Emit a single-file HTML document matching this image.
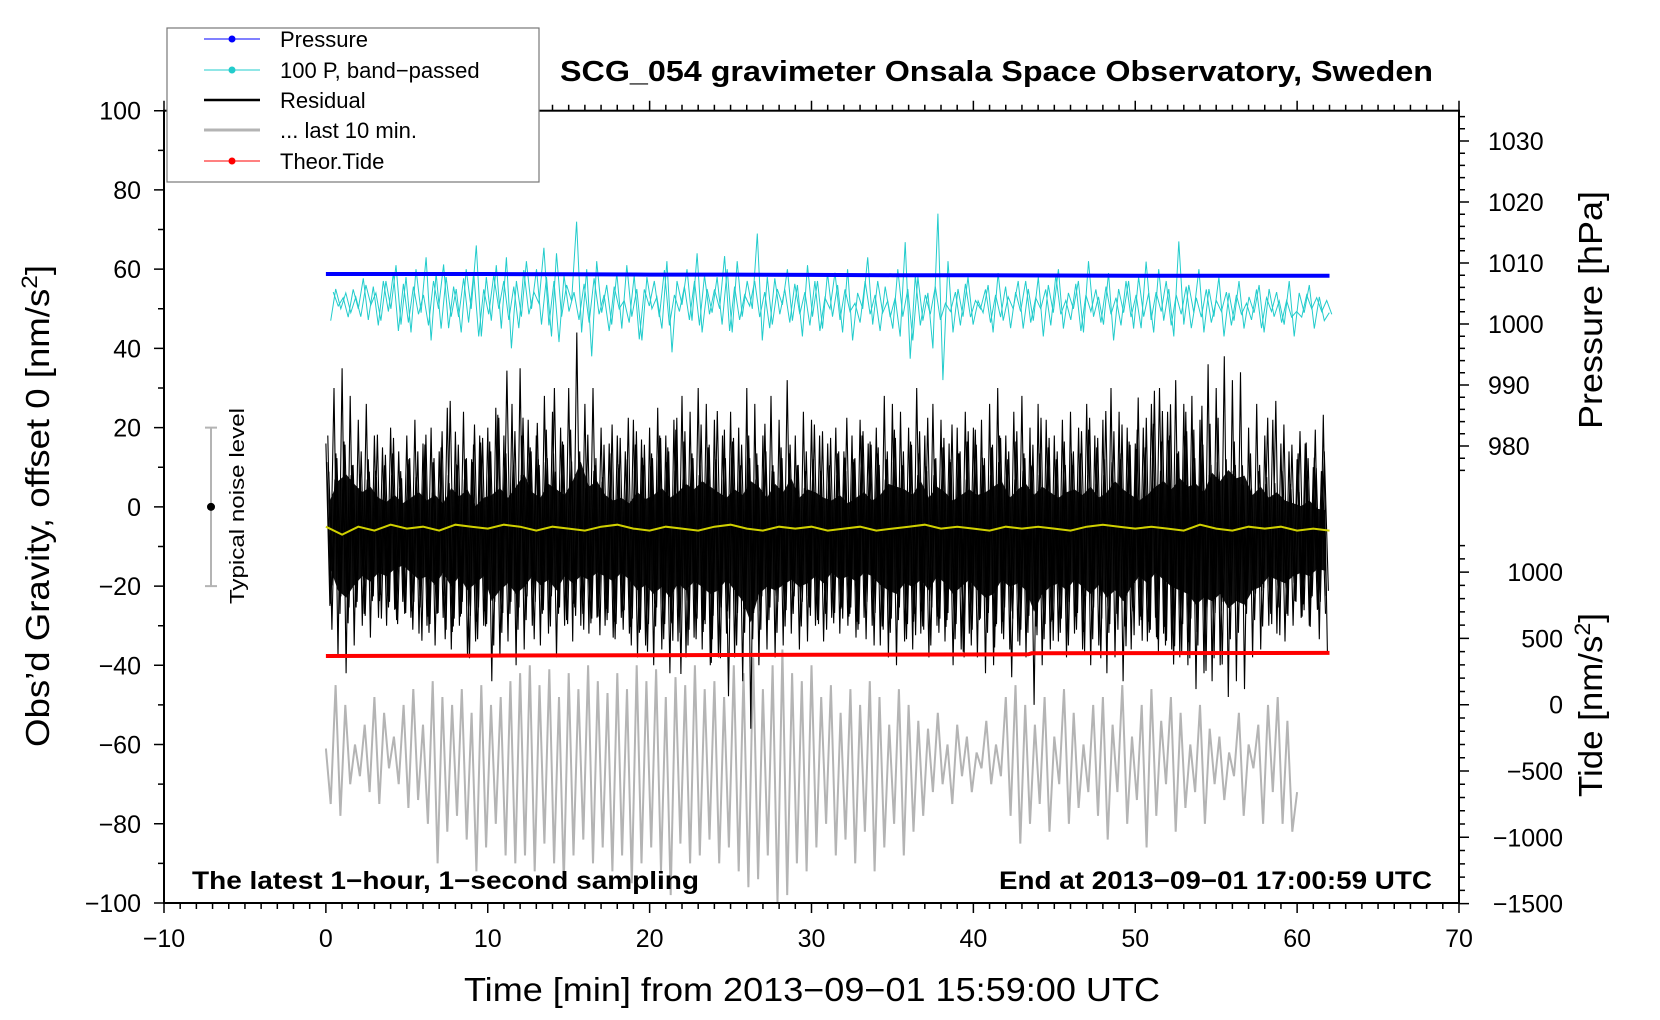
<!DOCTYPE html>
<html><head><meta charset="utf-8"><style>
html,body{margin:0;padding:0;background:#fff;}
svg{display:block;font-family:"Liberation Sans",Arial,sans-serif;}
</style></head><body>
<svg id="chart" width="1660" height="1020" viewBox="0 0 1660 1020" xmlns="http://www.w3.org/2000/svg">
<rect width="1660" height="1020" fill="#fff"/>
<g id="marks"></g>
<g id="axes"></g>
</svg>
<script>
// ---------- data ----------
const xTicks = [-10,0,10,20,30,40,50,60,70];
const leftTicks = [-100,-80,-60,-40,-20,0,20,40,60,80,100];
const pressTicks = [980,990,1000,1010,1020,1030];
const tideTicks = [-1500,-1000,-500,0,500,1000];
const pressTimes = [0,5,10,15,20,25,30,35,40,45,50,55,60,62];
const pressValues = [1008.2,1008.2,1008.2,1008.15,1008.1,1008.1,1008.05,1008.0,1008.0,1007.95,1007.9,1007.9,1007.9,1007.9];
const tideTimes = [0,10,20,30,43.4,43.6,50,62];
const tideValues = [367,370,373,376,380,388,389,391];
const cyanValues = [47,55,50,54,49,53,48,56,51,54,47,57,50,61,46,58,44,60,49,63,
42,59,45,58,48,55,44,60,50,66,43,58,47,61,45,63,40,57,48,62,
50,60,46,58,43,64,48,56,52,72,44,60,38,62,49,56,46,59,45,61,
48,55,42,58,50,53,45,62,39,57,51,60,47,64,44,55,49,58,46,60,
44,62,48,57,50,69,42,58,46,55,51,60,47,56,43,61,48,57,45,59,
48,56,44,60,42,54,50,63,46,57,49,52,45,60,48,55,42,58,47,54,
40,74,32,62,44,55,48,58,46,52,49,56,44,59,47,53,50,57,45,55,
47,58,43,56,49,60,45,54,50,57,44,62,48,53,46,59,42,55,49,57,
45,58,48,54,44,60,47,55,43,67,46,56,49,60,44,55,48,58,43,54,
47,57,45,53,49,56,44,55,48,52,46,57,43,54,49,56,45,53,47,49];
const residHi = [16,30,35,28,22,26,18,15,20,14, 18,22,16,20,14,25,19,24,12,18,
20,25,18,26,35,22,18,28,24,20, 30,44,26,30,20,16,18,14,22,17,
20,25,18,22,28,24,30,26,22,18, 24,20,30,26,18,28,22,32,18,24,
22,18,16,20,14,18,22,16,20,28, 26,24,20,30,18,26,22,16,20,24,
20,22,26,30,18,24,28,20,26,22, 18,22,24,20,26,18,22,30,24,20,
16,20,26,30,24,32,26,28,22,36, 30,38,32,34,20,26,18,22,16,14, 12,16,10,9];
const residLo = [-25,-38,-42,-35,-30,-33,-28,-30,-26,-24, -28,-32,-30,-35,-28,-36,-30,-38,-34,-30,
-44,-38,-34,-40,-36,-30,-35,-32,-38,-30, -34,-30,-32,-28,-30,-33,-28,-32,-38,-35,
-40,-36,-42,-34,-38,-33,-36,-40,-38,-32, -38,-44,-56,-40,-36,-38,-35,-32,-36,-34,
-30,-34,-28,-32,-30,-33,-28,-30,-35,-38, -40,-34,-36,-32,-38,-30,-34,-40,-36,-32,
-38,-42,-40,-32,-36,-34,-38,-50,-40,-36, -34,-38,-32,-36,-40,-35,-42,-38,-44,-36,
-30,-34,-28,-32,-36,-38,-40,-46,-42,-44, -40,-48,-44,-46,-38,-36,-30,-32,-34,-30, -28,-30,-26,-27];
const yellowValues = [-5,-7,-5,-6,-4.5,-5.5,-5,-6,-4.5,-5,-5.5,-4.5,-5,-6,-5,-5.5,-6,-5,-4.5,-5.5,-6,-5,-5.5,-6,-5,-4.5,-5.5,-6,-5,-5.5,-5,-6,-5.5,-5,-6,-5.5,-5,-4.5,-5.5,-5,-5.5,-6,-5,-5.5,-5,-5.5,-6,-5,-4.5,-5,-5.5,-5,-5.5,-6,-4.5,-5.5,-6,-5,-5.5,-5,-6,-5.5,-6];
const grayValues = [-61,-75,-45,-78,-50,-70,-60,-68,-55,-72,-48,-75,-52,-66,-58,-70,-50,-76,-46,-74,
-55,-80,-44,-90,-48,-82,-50,-78,-46,-84,-52,-92,-45,-86,-50,-80,-48,-88,-44,-90,
-42,-88,-40,-92,-45,-85,-41,-90,-48,-95,-42,-88,-46,-84,-40,-90,-44,-86,-47,-92,
-42,-88,-46,-95,-40,-90,-44,-86,-41,-92,-48,-98,-43,-85,-45,-90,-40,-88,-46,-84,
-44,-90,-48,-86,-40,-92,-42,-96,-38,-94,-46,-88,-40,-100,-36,-98,-42,-90,-44,-92,
-40,-86,-48,-80,-45,-88,-52,-84,-46,-90,-50,-82,-44,-92,-48,-86,-55,-80,-46,-88,
-50,-82,-54,-78,-56,-72,-52,-70,-60,-75,-55,-68,-58,-72,-62,-66,-54,-70,-60,-68,
-48,-78,-45,-85,-50,-80,-55,-75,-48,-82,-58,-70,-46,-80,-52,-76,-60,-72,-50,-78,
-48,-84,-55,-72,-45,-80,-58,-74,-50,-86,-46,-78,-54,-70,-48,-82,-52,-76,-60,-72,
-50,-80,-56,-70,-58,-74,-62,-68,-52,-78,-60,-66,-55,-80,-50,-72,-48,-80,-54,-82,-72];

// ---------- scales ----------
const X0=164, X1=1459, YT=110.7, YB=903;
function sx(t){return X0+(t+10)*(X1-X0)/80;}
function sy(v){return YT+(100-v)*(YB-YT)/200;}
function sp(p){return 141+(1030-p)*6.1;}
function st(v){return 704.7-v*0.1326;}
const NS="http://www.w3.org/2000/svg";
const marks=document.getElementById('marks');
const axes=document.getElementById('axes');
function el(tag,attrs,parent){const e=document.createElementNS(NS,tag);for(const k in attrs)e.setAttribute(k,attrs[k]);parent.appendChild(e);return e;}
function txt(s,attrs,parent){const e=el('text',attrs,parent);e.textContent=s;return e;}
function fmt(v){return v<0?'\u2212'+Math.abs(v):String(v);}

// gray last-10-min
let pts=grayValues.map((v,i)=>sx(i*0.3).toFixed(1)+','+sy(v).toFixed(1)).join(' ');
let g=el('polyline',{points:pts,fill:'none',stroke:'#b4b4b4','stroke-width':2},marks);



// cyan
pts=cyanValues.map((v,i)=>sx(0.3+i*0.31).toFixed(1)+','+sy(v).toFixed(1)).join(' ');
let c=el('polyline',{points:pts,fill:'none',stroke:'#22cccc','stroke-width':1},marks);


pts=cyanValues.map((v,i)=>sx(0.45+i*0.31).toFixed(1)+','+sy(50+(cyanValues[(i+7)%cyanValues.length]-50)*0.7).toFixed(1)).join(' ');
let c2=el('polyline',{points:pts,fill:'none',stroke:'#22cccc','stroke-width':1},marks);



// residual core fill
let core=[];
residHi.forEach((h,i)=>core.push(sx(i*0.5+0.25).toFixed(1)+','+sy(h*0.35-4).toFixed(1)));
for(let i=residLo.length-1;i>=0;i--)core.push(sx(i*0.5+0.25).toFixed(1)+','+sy(residLo[i]*0.45-4).toFixed(1));
let cf=el('polygon',{points:core.join(' '),fill:'#111'},marks);



// residual zigzag layers
[[0,1,1,0],[0.12,0.75,0.8,3],[0.06,0.55,0.65,5],[0.18,0.85,0.7,9]].forEach((L,k)=>{
  const rp=[];
  residHi.forEach((h,i)=>{
    const j=(i+L[3])%residHi.length;
    const hv=k===0?h:residHi[j]*L[1]-3;
    const lv=k===0?residLo[i]:residLo[j]*L[2]-3;
    rp.push(sx(i*0.5+L[0]).toFixed(1)+','+sy(hv).toFixed(1));
    rp.push(sx(i*0.5+0.25+L[0]).toFixed(1)+','+sy(lv).toFixed(1));
  });
  const r=el('polyline',{points:rp.join(' '),fill:'none',stroke:'#000','stroke-width':1.1},marks);
  
  
});

// yellow
pts=yellowValues.map((v,i)=>sx(i).toFixed(1)+','+sy(v).toFixed(1)).join(' ');
let y=el('polyline',{points:pts,fill:'none',stroke:'#d0d000','stroke-width':2},marks);



// pressure
pts=pressValues.map((v,i)=>sx(pressTimes[i]).toFixed(1)+','+sp(v).toFixed(1)).join(' ');
let p=el('polyline',{points:pts,fill:'none',stroke:'#0000ff','stroke-width':4},marks);



// tide
pts=tideValues.map((v,i)=>sx(tideTimes[i]).toFixed(1)+','+st(v).toFixed(1)).join(' ');
let td=el('polyline',{points:pts,fill:'none',stroke:'#ff0000','stroke-width':4},marks);



// ---------- axes ----------
let frame=el('rect',{x:X0,y:YT,width:X1-X0,height:YB-YT,fill:'none',stroke:'#000','stroke-width':2},axes);


let tk='';
for(let t=-10;t<=70;t++){const L=(t%10===0)?10:6;const x=sx(t);tk+=`M${x} ${YB}v${L}M${x} ${YT}v${-L}`;}
for(let v=-100;v<=100;v+=10){const L=(v%20===0)?10:6;tk+=`M${X0} ${sy(v)}h${-L}`;}
for(let pr=976;pr<=1034;pr+=2){const L=(pr%10===0)?10:6;tk+=`M${X1} ${sp(pr)}h${L}`;}
for(let v=-1500;v<=1200;v+=100){const L=(v%500===0)?10:6;tk+=`M${X1} ${st(v)}h${L}`;}
let ticks=el('path',{d:tk,stroke:'#000','stroke-width':1.5,fill:'none'},axes);


xTicks.forEach(t=>{const e=txt(fmt(t),{x:sx(t),y:947,'font-size':25,'text-anchor':'middle'},axes);

});
leftTicks.forEach(v=>{const e=txt(fmt(v),{x:141,y:sy(v)+9,'font-size':25,'text-anchor':'end'},axes);

});
pressTicks.forEach(v=>{const e=txt(String(v),{x:1488,y:sp(v)+9,'font-size':25},axes);

});
tideTicks.forEach(v=>{const e=txt(fmt(v),{x:1563,y:st(v)+9,'font-size':25,'text-anchor':'end'},axes);

});
</script>
<script>
(function(){
const NS="http://www.w3.org/2000/svg";const svg=document.getElementById('chart');
function t(s,a,name){const e=document.createElementNS(NS,'text');for(const k in a)e.setAttribute(k,a[k]);e.innerHTML=s;


svg.appendChild(e);return e;}
t('SCG_054 gravimeter Onsala Space Observatory, Sweden',{x:560,y:81,'font-size':29,'font-weight':'bold',textLength:873,lengthAdjust:'spacingAndGlyphs'},'chart-title');
t('Time [min] from 2013\u221209\u221201 15:59:00 UTC',{x:464,y:1001,'font-size':33,textLength:696,lengthAdjust:'spacingAndGlyphs'},'x-axis-title');
t('Obs’d Gravity, offset 0 [nm/s<tspan dy="-12" font-size="22">2</tspan><tspan dy="12">]</tspan>',{x:0,y:0,'font-size':33,transform:'translate(49,747) rotate(-90)',textLength:482,lengthAdjust:'spacingAndGlyphs'},'left-axis-title');
t('Pressure [hPa]',{x:0,y:0,'font-size':33,transform:'translate(1602,429) rotate(-90)',textLength:238,lengthAdjust:'spacingAndGlyphs'},'pressure-axis-title');
t('Tide [nm/s<tspan dy="-12" font-size="22">2</tspan><tspan dy="12">]</tspan>',{x:0,y:0,'font-size':33,transform:'translate(1602,797) rotate(-90)',textLength:184,lengthAdjust:'spacingAndGlyphs'},'tide-axis-title');
t('The latest 1\u2212hour, 1\u2212second sampling',{x:192,y:889,'font-size':25,'font-weight':'bold',textLength:507,lengthAdjust:'spacingAndGlyphs'},'sampling-note');
t('End at 2013\u221209\u221201 17:00:59 UTC',{x:999,y:889,'font-size':25,'font-weight':'bold',textLength:433,lengthAdjust:'spacingAndGlyphs'},'end-time-note');
t('Typical noise level',{x:0,y:0,'font-size':20,transform:'translate(244,604) rotate(-90)',textLength:196,lengthAdjust:'spacingAndGlyphs'},'noise-level-label');
})();
</script>
<script>
(function(){
const NS="http://www.w3.org/2000/svg";const svg=document.getElementById('chart');
function sy(v){return 110.7+(100-v)*(903-110.7)/200;}
const nb=document.createElementNS(NS,'g');


nb.innerHTML=`<path d="M211 ${sy(20)}V${sy(-20)}M205 ${sy(20)}h12M205 ${sy(-20)}h12" stroke="#b4b4b4" stroke-width="2" fill="none"/><circle cx="211" cy="${sy(0)}" r="4" fill="#000"/>`;
svg.appendChild(nb);
const lg=document.createElementNS(NS,'g');


lg.innerHTML=`<rect x="167" y="28" width="372" height="154" fill="#fff" stroke="#777" stroke-width="1.2"/>
<g font-size="22" font-family="Liberation Sans, Arial, sans-serif">
<line x1="204" y1="39" x2="260" y2="39" stroke="#0000ff"/><circle cx="232" cy="39" r="3.5" fill="#0000ff"/><text x="280" y="47">Pressure</text>
<line x1="204" y1="70" x2="260" y2="70" stroke="#22cccc"/><circle cx="232" cy="70" r="3.5" fill="#22cccc"/><text x="280" y="78">100 P, band−passed</text>
<line x1="204" y1="100" x2="260" y2="100" stroke="#000" stroke-width="2.5"/><text x="280" y="108">Residual</text>
<line x1="204" y1="130" x2="260" y2="130" stroke="#b4b4b4" stroke-width="3"/><text x="280" y="138">... last 10 min.</text>
<line x1="204" y1="161" x2="260" y2="161" stroke="#ff0000"/><circle cx="232" cy="161" r="3.5" fill="#ff0000"/><text x="280" y="169">Theor.Tide</text>
</g>`;
svg.appendChild(lg);
})();
</script>
</body></html>
